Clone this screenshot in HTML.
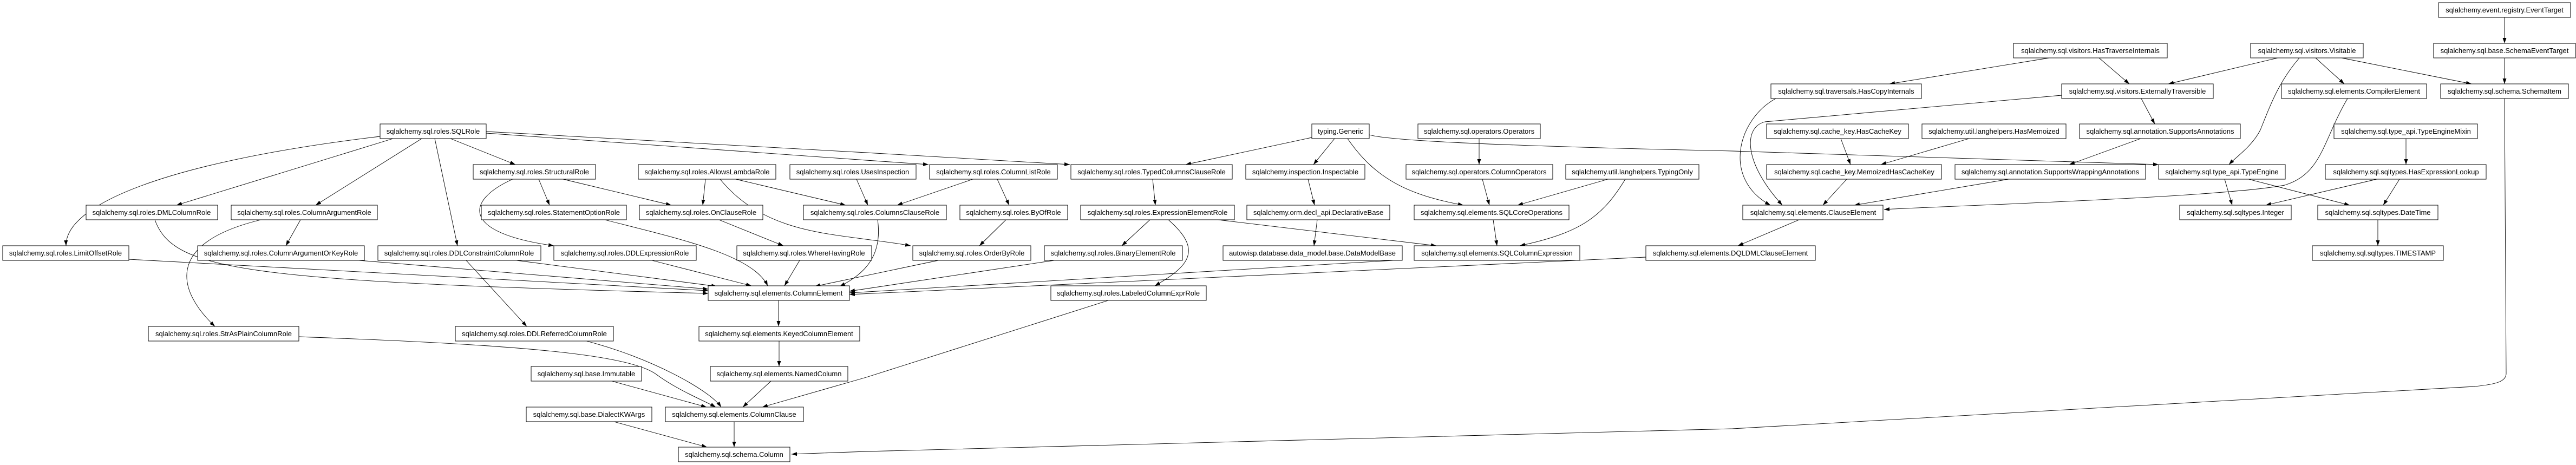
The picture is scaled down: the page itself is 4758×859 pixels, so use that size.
<!DOCTYPE html>
<html><head><meta charset="utf-8"><style>
html,body{margin:0;padding:0;background:#fff}
svg{display:block}
text{font-family:"Liberation Sans",Arial,sans-serif;font-size:13px;fill:#000}
.n rect{fill:#fff;stroke:#000;stroke-width:1}
.n line{stroke:#999;stroke-width:2}
path{fill:none;stroke:#000;stroke-width:0.9}
</style></head><body>
<svg width="4758" height="859" viewBox="0 0 4758 859" xmlns="http://www.w3.org/2000/svg">
<defs><marker id="a" viewBox="0 0 10 7" refX="10" refY="3.5" markerWidth="10" markerHeight="7" markerUnits="userSpaceOnUse" orient="auto"><path d="M0,0 L10,3.5 L0,7 z" style="fill:#000;stroke:none"/></marker></defs>
<g marker-end="url(#a)">
<path d="M832,256 L952,304"/>
<path d="M726,256 L326,379"/>
<path d="M779,256 L583,379"/>
<path d="M803,256 L845,454"/>
<path d="M702,252 C300,300 120,380 122,454"/>
<path d="M898,246 L1600,296 L1715,304"/>
<path d="M898,243 L1600,282 L1976,304"/>
<path d="M995,331 L1015,379"/>
<path d="M1040,331 L1240,379"/>
<path d="M947,331 C860,370 850,430 1023,454"/>
<path d="M1303,331 L1298,379"/>
<path d="M1359,331 L1562,379"/>
<path d="M1330,331 C1420,440 1550,430 1682,454"/>
<path d="M1582,331 L1603,379"/>
<path d="M1797,331 L1657,379"/>
<path d="M1842,331 L1864,379"/>
<path d="M1858,406 L1809,454"/>
<path d="M1328,406 L1447,454"/>
<path d="M2129,331 L2134,379"/>
<path d="M2423,254 L2190,304"/>
<path d="M2465,256 L2426,304"/>
<path d="M2489,256 C2540,330 2600,360 2703,379"/>
<path d="M2529,249 C2560,258 2700,268 3200,279 L3987,304"/>
<path d="M2732,256 L2732,304"/>
<path d="M2738,331 L2751,379"/>
<path d="M2970,331 L2803,379"/>
<path d="M3002,331 C2960,400 2920,430 2807,454"/>
<path d="M2758,406 L2765,454"/>
<path d="M2416,331 L2428,379"/>
<path d="M2433,406 L2427,454"/>
<path d="M2124,406 L2072,454"/>
<path d="M2158,406 C2220,460 2200,490 2133,528"/>
<path d="M2250,406 L2653,454"/>
<path d="M555,406 L528,454"/>
<path d="M482,406 C300,450 330,540 397,603"/>
<path d="M286,406 C320,500 450,520 1308,542"/>
<path d="M238,479 L1308,537"/>
<path d="M663,481 L1308,534"/>
<path d="M954,481 L1324,529"/>
<path d="M861,481 L973,603"/>
<path d="M1204,481 L1388,528"/>
<path d="M1117,406 C1250,440 1390,470 1418,528"/>
<path d="M1477,481 L1449,528"/>
<path d="M1621,406 C1630,470 1600,505 1551,529"/>
<path d="M1733,481 L1505,529"/>
<path d="M1947,481 L1569,538"/>
<path d="M2590,480 L1569,541"/>
<path d="M3040,475 L1569,544"/>
<path d="M3323,406 L3210,454"/>
<path d="M1438,554 L1438,603"/>
<path d="M1439,630 L1439,677"/>
<path d="M1424,704 L1372,752"/>
<path d="M1130,704 L1305,752"/>
<path d="M552,622 C900,635 1150,650 1210,690 C1250,720 1300,740 1322,752"/>
<path d="M1083,630 C1200,660 1310,720 1332,752"/>
<path d="M2047,555 L1600,697 L1408,752"/>
<path d="M1356,779 L1356,826"/>
<path d="M1134,779 L1306,826"/>
<path d="M4626,182 L4629,690 C4629,705 4610,710 4570,714 L3200,792 L1600,834 L1462,839"/>
<path d="M4626,32 L4626,80"/>
<path d="M4626,107 L4626,155"/>
<path d="M3785,107 L3490,155"/>
<path d="M3877,107 L3933,155"/>
<path d="M4207,107 L4005,155"/>
<path d="M4247,107 C4210,150 4195,190 4175,240 C4160,270 4130,290 4117,304"/>
<path d="M4277,107 L4330,155"/>
<path d="M4325,107 L4565,155"/>
<path d="M3280,182 C3210,220 3180,330 3270,379"/>
<path d="M3808,176 L3260,225 C3220,235 3220,300 3292,379"/>
<path d="M3955,182 L3980,229"/>
<path d="M4336,182 C4290,260 4290,320 4220,342 C4100,365 3600,380 3480,387"/>
<path d="M3400,256 L3418,304"/>
<path d="M3637,256 L3474,304"/>
<path d="M3954,256 L3822,304"/>
<path d="M3411,331 L3367,379"/>
<path d="M3710,331 L3425,379"/>
<path d="M4444,256 L4444,304"/>
<path d="M4109,331 L4123,379"/>
<path d="M4153,331 L4340,379"/>
<path d="M4390,331 L4185,379"/>
<path d="M4432,331 L4402,379"/>
<path d="M4392,406 L4392,454"/>
</g>
<g class="n" text-anchor="middle">
<rect x="702" y="229" width="196" height="27"/><text x="800" y="247">sqlalchemy.sql.roles.SQLRole</text>
<rect x="874" y="304" width="226" height="27"/><text x="987" y="322">sqlalchemy.sql.roles.StructuralRole</text>
<rect x="1179" y="304" width="254" height="27"/><text x="1306" y="322">sqlalchemy.sql.roles.AllowsLambdaRole</text>
<rect x="1459" y="304" width="233" height="27"/><text x="1575" y="322">sqlalchemy.sql.roles.UsesInspection</text>
<rect x="1717" y="304" width="236" height="27"/><text x="1835" y="322">sqlalchemy.sql.roles.ColumnListRole</text>
<rect x="1978" y="304" width="298" height="27"/><text x="2127" y="322">sqlalchemy.sql.roles.TypedColumnsClauseRole</text>
<rect x="2301" y="304" width="220" height="27"/><text x="2411" y="322">sqlalchemy.inspection.Inspectable</text>
<rect x="2597" y="304" width="271" height="27"/><text x="2732" y="322">sqlalchemy.sql.operators.ColumnOperators</text>
<rect x="2892" y="304" width="246" height="27"/><text x="3015" y="322">sqlalchemy.util.langhelpers.TypingOnly</text>
<rect x="159" y="379" width="243" height="27"/><text x="280" y="397">sqlalchemy.sql.roles.DMLColumnRole</text>
<rect x="427" y="379" width="270" height="27"/><text x="562" y="397">sqlalchemy.sql.roles.ColumnArgumentRole</text>
<rect x="889" y="379" width="268" height="27"/><text x="1023" y="397">sqlalchemy.sql.roles.StatementOptionRole</text>
<rect x="1181" y="379" width="228" height="27"/><text x="1295" y="397">sqlalchemy.sql.roles.OnClauseRole</text>
<rect x="1484" y="379" width="264" height="27"/><text x="1616" y="397">sqlalchemy.sql.roles.ColumnsClauseRole</text>
<rect x="1773" y="379" width="199" height="27"/><text x="1872" y="397">sqlalchemy.sql.roles.ByOfRole</text>
<rect x="1996" y="379" width="284" height="27"/><text x="2138" y="397">sqlalchemy.sql.roles.ExpressionElementRole</text>
<rect x="2303" y="379" width="264" height="27"/><text x="2435" y="397">sqlalchemy.orm.decl_api.DeclarativeBase</text>
<rect x="2612" y="379" width="286" height="27"/><text x="2755" y="397">sqlalchemy.sql.elements.SQLCoreOperations</text>
<rect x="5" y="454" width="233" height="27"/><text x="121" y="472">sqlalchemy.sql.roles.LimitOffsetRole</text>
<rect x="365" y="454" width="308" height="27"/><text x="519" y="472">sqlalchemy.sql.roles.ColumnArgumentOrKeyRole</text>
<rect x="698" y="454" width="301" height="27"/><text x="848" y="472">sqlalchemy.sql.roles.DDLConstraintColumnRole</text>
<rect x="1023" y="454" width="263" height="27"/><text x="1154" y="472">sqlalchemy.sql.roles.DDLExpressionRole</text>
<rect x="1361" y="454" width="249" height="27"/><text x="1485" y="472">sqlalchemy.sql.roles.WhereHavingRole</text>
<rect x="1686" y="454" width="218" height="27"/><text x="1795" y="472">sqlalchemy.sql.roles.OrderByRole</text>
<rect x="1929" y="454" width="255" height="27"/><text x="2056" y="472">sqlalchemy.sql.roles.BinaryElementRole</text>
<rect x="2259" y="454" width="331" height="27"/><text x="2424" y="472">autowisp.database.data_model.base.DataModelBase</text>
<rect x="2612" y="454" width="306" height="27"/><text x="2765" y="472">sqlalchemy.sql.elements.SQLColumnExpression</text>
<rect x="3040" y="454" width="313" height="27"/><text x="3196" y="472">sqlalchemy.sql.elements.DQLDMLClauseElement</text>
<rect x="1308" y="528" width="261" height="27"/><text x="1438" y="546">sqlalchemy.sql.elements.ColumnElement</text>
<rect x="1941" y="528" width="287" height="27"/><text x="2084" y="546">sqlalchemy.sql.roles.LabeledColumnExprRole</text>
<rect x="274" y="603" width="278" height="27"/><text x="413" y="621">sqlalchemy.sql.roles.StrAsPlainColumnRole</text>
<rect x="841" y="603" width="292" height="27"/><text x="987" y="621">sqlalchemy.sql.roles.DDLReferredColumnRole</text>
<rect x="1291" y="603" width="297" height="27"/><text x="1439" y="621">sqlalchemy.sql.elements.KeyedColumnElement</text>
<rect x="981" y="677" width="204" height="27"/><text x="1083" y="695">sqlalchemy.sql.base.Immutable</text>
<rect x="1312" y="677" width="254" height="27"/><text x="1439" y="695">sqlalchemy.sql.elements.NamedColumn</text>
<rect x="972" y="752" width="232" height="27"/><text x="1088" y="770">sqlalchemy.sql.base.DialectKWArgs</text>
<rect x="1229" y="752" width="255" height="27"/><text x="1356" y="770">sqlalchemy.sql.elements.ColumnClause</text>
<rect x="1253" y="826" width="206" height="27"/><text x="1356" y="844">sqlalchemy.sql.schema.Column</text>
<rect x="2423" y="229" width="106" height="27"/><text x="2476" y="247">typing.Generic</text>
<rect x="2619" y="229" width="226" height="27"/><text x="2732" y="247">sqlalchemy.sql.operators.Operators</text>
<rect x="4504" y="5" width="244" height="27"/><text x="4626" y="23">sqlalchemy.event.registry.EventTarget</text>
<rect x="3719" y="80" width="284" height="27"/><text x="3861" y="98">sqlalchemy.sql.visitors.HasTraverseInternals</text>
<rect x="4157" y="80" width="208" height="27"/><text x="4261" y="98">sqlalchemy.sql.visitors.Visitable</text>
<rect x="4495" y="80" width="262" height="27"/><text x="4626" y="98">sqlalchemy.sql.base.SchemaEventTarget</text>
<rect x="3271" y="155" width="278" height="27"/><text x="3410" y="173">sqlalchemy.sql.traversals.HasCopyInternals</text>
<rect x="3808" y="155" width="280" height="27"/><text x="3948" y="173">sqlalchemy.sql.visitors.ExternallyTraversible</text>
<rect x="4214" y="155" width="268" height="27"/><text x="4348" y="173">sqlalchemy.sql.elements.CompilerElement</text>
<rect x="4508" y="155" width="236" height="27"/><text x="4626" y="173">sqlalchemy.sql.schema.SchemaItem</text>
<rect x="3263" y="229" width="262" height="27"/><text x="3394" y="247">sqlalchemy.sql.cache_key.HasCacheKey</text>
<rect x="3550" y="229" width="266" height="27"/><text x="3683" y="247">sqlalchemy.util.langhelpers.HasMemoized</text>
<rect x="3841" y="229" width="297" height="27"/><text x="3990" y="247">sqlalchemy.sql.annotation.SupportsAnnotations</text>
<rect x="4311" y="229" width="265" height="27"/><text x="4444" y="247">sqlalchemy.sql.type_api.TypeEngineMixin</text>
<rect x="3263" y="304" width="323" height="27"/><text x="3425" y="322">sqlalchemy.sql.cache_key.MemoizedHasCacheKey</text>
<rect x="3611" y="304" width="352" height="27"/><text x="3787" y="322">sqlalchemy.sql.annotation.SupportsWrappingAnnotations</text>
<rect x="3987" y="304" width="234" height="27"/><text x="4104" y="322">sqlalchemy.sql.type_api.TypeEngine</text>
<rect x="4295" y="304" width="297" height="27"/><text x="4444" y="322">sqlalchemy.sql.sqltypes.HasExpressionLookup</text>
<rect x="3219" y="379" width="259" height="27"/><text x="3349" y="397">sqlalchemy.sql.elements.ClauseElement</text>
<rect x="4026" y="379" width="206" height="27"/><text x="4129" y="397">sqlalchemy.sql.sqltypes.Integer</text>
<rect x="4281" y="379" width="222" height="27"/><text x="4392" y="397">sqlalchemy.sql.sqltypes.DateTime</text>
<rect x="4271" y="454" width="242" height="27"/><text x="4392" y="472">sqlalchemy.sql.sqltypes.TIMESTAMP</text>
</g>
</svg>
</body></html>
